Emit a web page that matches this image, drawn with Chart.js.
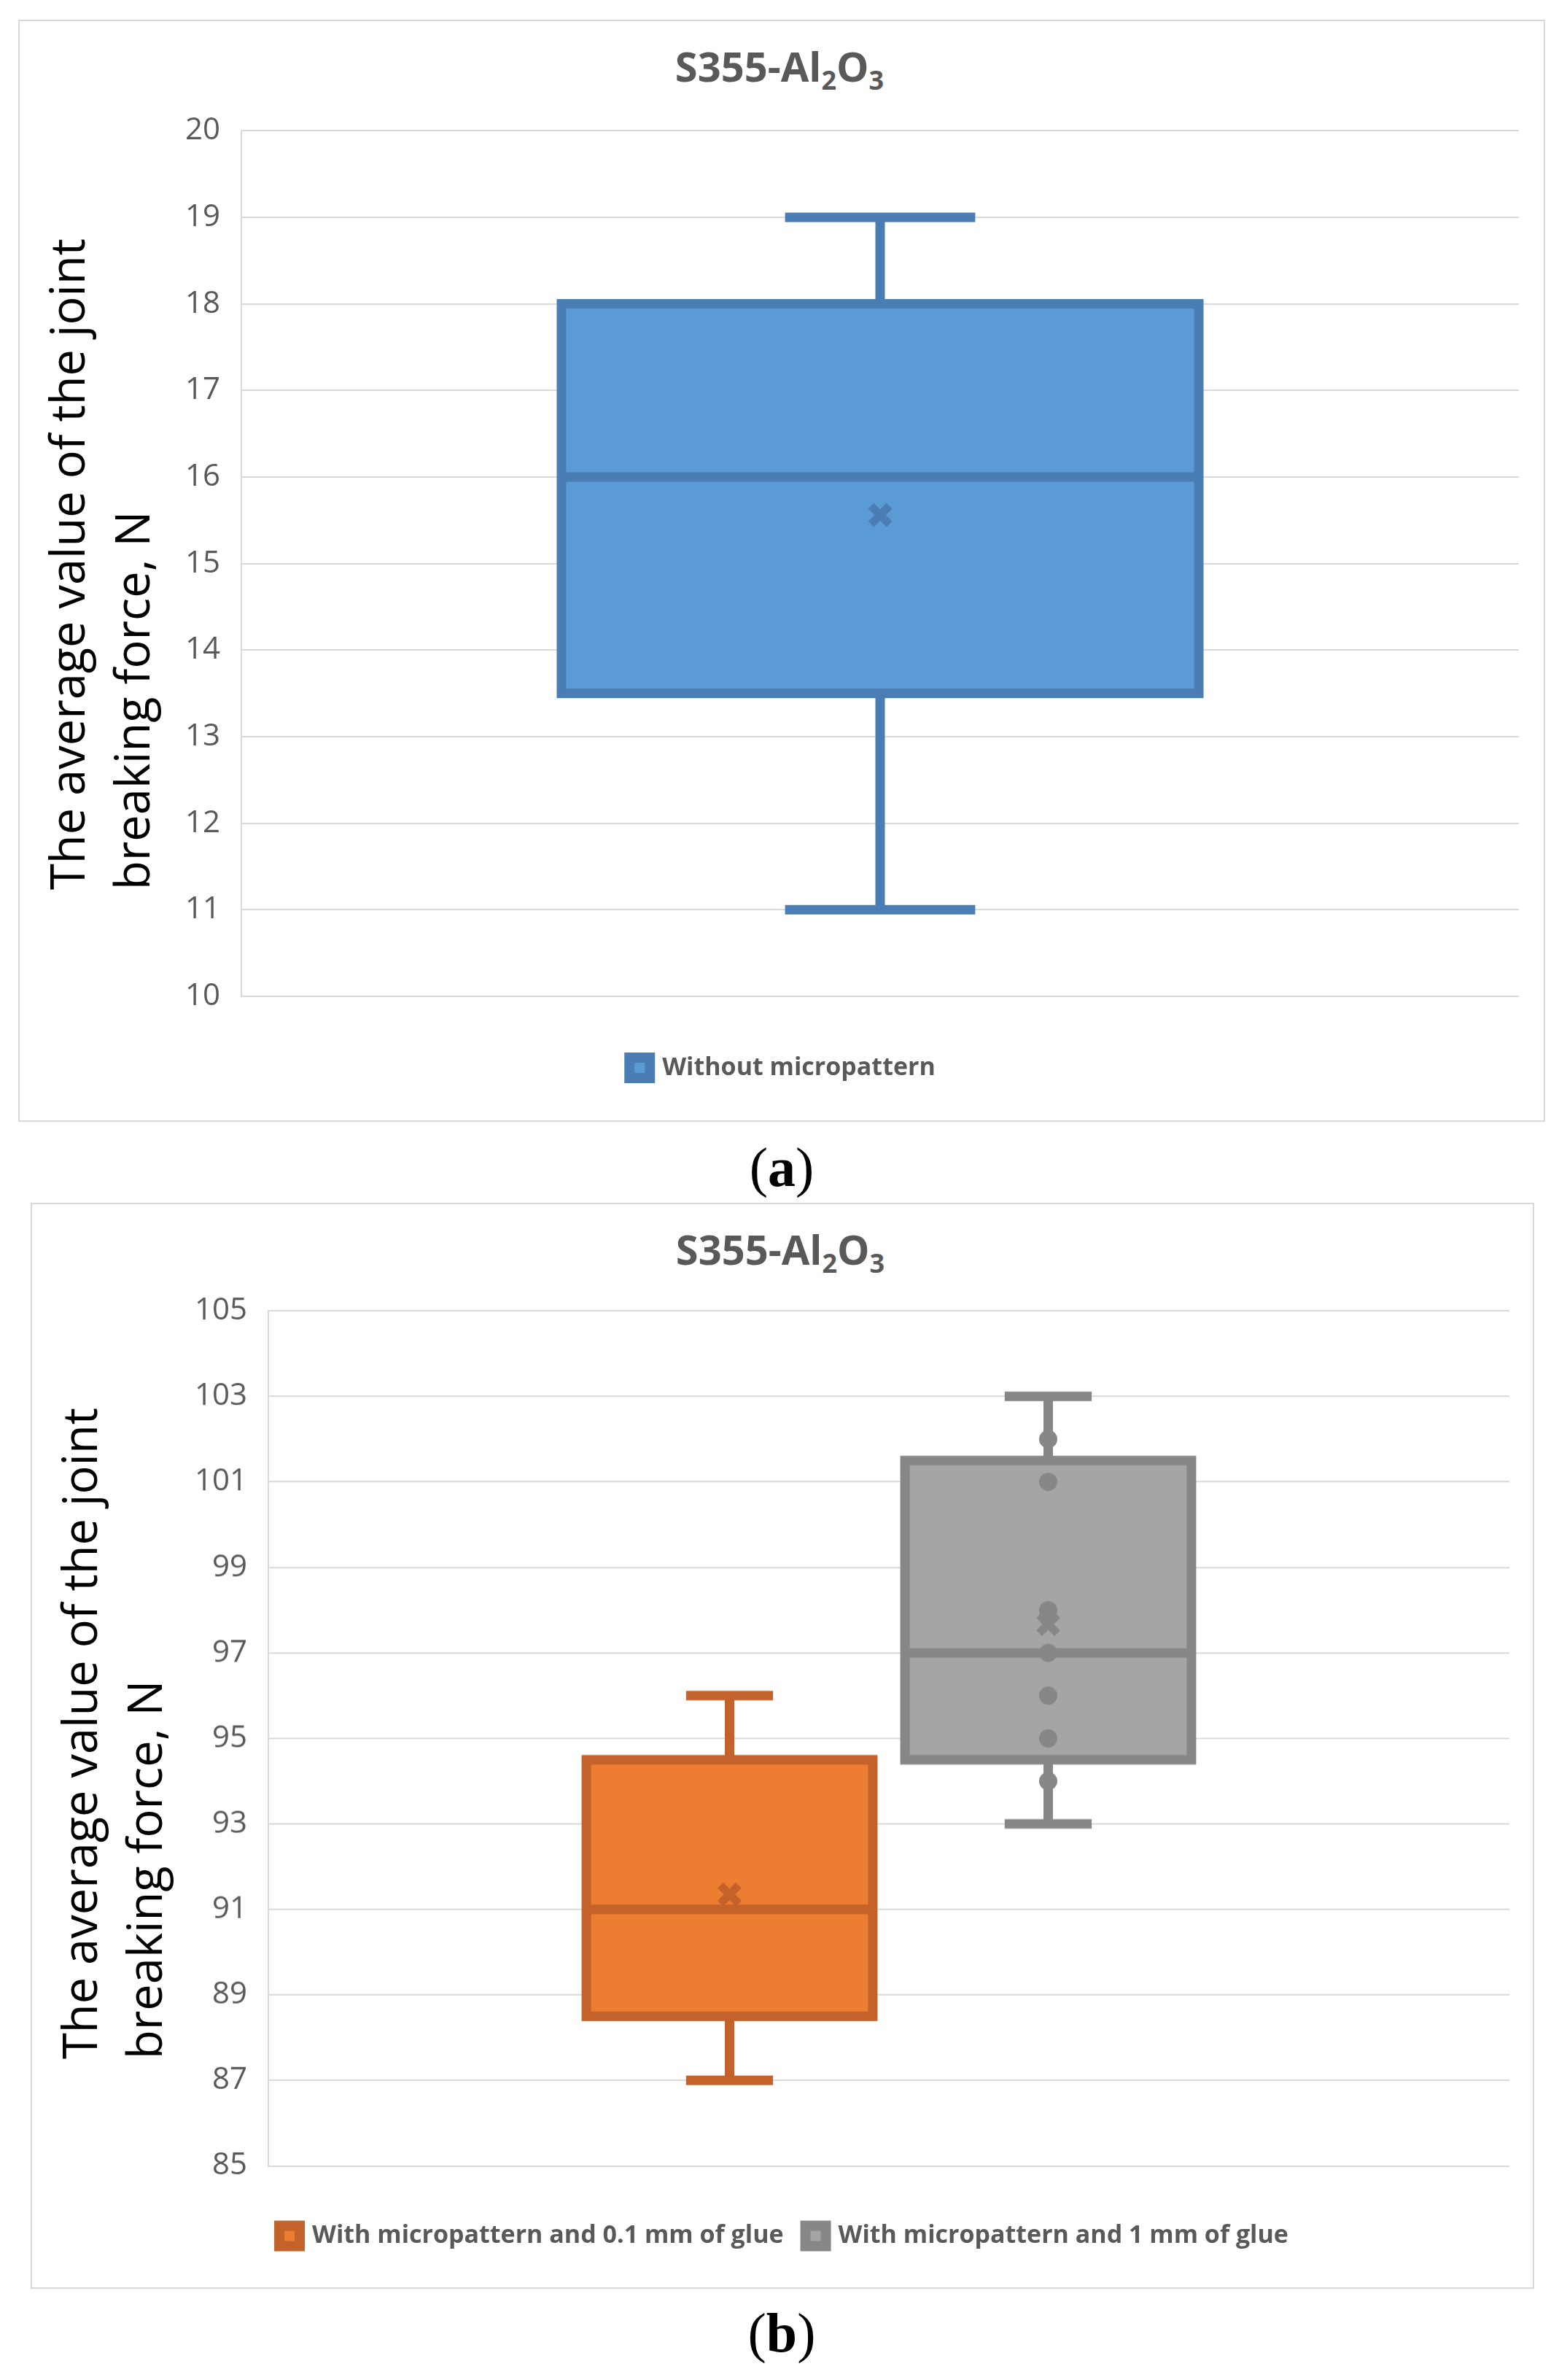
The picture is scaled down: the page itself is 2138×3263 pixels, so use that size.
<!DOCTYPE html>
<html>
<head>
<meta charset="utf-8">
<script src="https://cdn.jsdelivr.net/npm/chart.js@4.4.0/dist/chart.umd.min.js"></script>
<style>
html, body { margin: 0; padding: 0; background: #fff; }
body { width: 2138px; height: 3263px; position: relative; overflow: hidden; }
.panel { position: absolute; border: 2px solid #d9d9d9; box-sizing: border-box; }
.title { position: absolute; font-family: 'Open Sans'; font-weight: 700; font-size: 56px; line-height: 56px; color: #595959; white-space: nowrap; transform: translateX(-50%); }
.title sub { font-size: 36px; vertical-align: baseline; position: relative; top: 11px; }
.ytitle { position: absolute; transform-origin: 0 0; transform: rotate(-90deg); font-family: 'Open Sans'; font-size: 65px; line-height: 89px; color: #000; white-space: nowrap; }
.wrap { position: absolute; }
.caption { position: absolute; font-family: 'Liberation Serif', serif; font-size: 76px; line-height: 76px; color: #000; transform: translateX(-50%); }
</style>
</head>
<body>

<div class="panel" style="left:25px; top:27px; width:2094px; height:1511px;"></div>
<div class="title" style="left:1069px; top:62px;">S355-Al<sub>2</sub>O<sub>3</sub></div>
<div class="ytitle" style="left:47px; top:1220px;">The average value of the joint<br>breaking force, N</div>
<div class="wrap" style="left:63px; top:124.5px; width:2020px; height:1366px;"><canvas id="chartA"></canvas></div>
<div class="caption" style="left:1072px; top:1562px;">(<b>a</b>)</div>

<div class="panel" style="left:42px; top:1649px; width:2062px; height:1489px;"></div>
<div class="title" style="left:1070px; top:1684px;">S355-Al<sub>2</sub>O<sub>3</sub></div>
<div class="ytitle" style="left:64px; top:2823px;">The average value of the joint<br>breaking force, N</div>
<div class="wrap" style="left:80px; top:1743px; width:1990px; height:1348.5px;"><canvas id="chartB"></canvas></div>
<div class="caption" style="left:1072px; top:3160px;">(<b>b</b>)</div>

<script>
// (a) one series
const categoriesA = [''];
const seriesA = ['Without micropattern'];
const minA = [11];
const q1A = [13.5];
const medianA = [16];
const q3A = [18];
const maxA = [19];
const meanA = [15.56];
const pointsA = [[]];
const ticksA = [10, 11, 12, 13, 14, 15, 16, 17, 18, 19, 20];

// (b) two series side by side
const categoriesB = [''];
const seriesB = ['With micropattern and 0.1 mm of glue', 'With micropattern and 1 mm of glue'];
const minB = [87, 93];
const q1B = [88.5, 94.5];
const medianB = [91, 97];
const q3B = [94.5, 101.5];
const maxB = [96, 103];
const meanB = [91.35, 97.67];
const pointsB = [[], [94, 95, 96, 97, 98, 101, 102]];
const ticksB = [85, 87, 89, 91, 93, 95, 97, 99, 101, 103, 105];

const fillColors = { a: ['#5b9bd5'], b: ['#ed7d31', '#a5a5a5'] };
const edgeColors = { a: ['#4a7db3'], b: ['#c4622b', '#878787'] };

const LINE = 13;

function line(ctx, x1, y1, x2, y2) {
    ctx.beginPath();
    ctx.moveTo(x1, y1);
    ctx.lineTo(x2, y2);
    ctx.stroke();
}

// whiskers, caps, box outline, median, mean and inner points, placed on the bars
const boxWhiskerPlugin = {
    id: 'boxWhisker',
    afterDatasetsDraw(chart) {
        const ctx = chart.ctx;
        const yScale = chart.scales.y;
        const shift = chart.options.groupShift || 0;
        chart.data.datasets.forEach((ds, i) => {
            const meta = chart.getDatasetMeta(i);
            meta.data.forEach((bar, j) => {
                const { width } = bar.getProps(['width'], true);
                const x = bar.getProps(['x'], true).x;
                const half = width / 2;
                const capHalf = 0.147 * (width + LINE);
                const yMin = yScale.getPixelForValue(ds.stats.min[j]);
                const yQ1 = yScale.getPixelForValue(ds.data[j][0]);
                const yMed = yScale.getPixelForValue(ds.stats.median[j]);
                const yQ3 = yScale.getPixelForValue(ds.data[j][1]);
                const yMax = yScale.getPixelForValue(ds.stats.max[j]);
                const yMean = yScale.getPixelForValue(ds.stats.mean[j]);

                ctx.save();
                ctx.strokeStyle = ds.edgeColor;
                ctx.fillStyle = ds.edgeColor;
                ctx.lineWidth = LINE;
                ctx.lineCap = 'butt';

                line(ctx, x, yQ3, x, yMax);
                line(ctx, x, yQ1, x, yMin);
                line(ctx, x - capHalf, yMax, x + capHalf, yMax);
                line(ctx, x - capHalf, yMin, x + capHalf, yMin);
                ctx.strokeRect(x - half, yQ3, width, yQ1 - yQ3);
                line(ctx, x - half, yMed, x + half, yMed);

                ds.stats.points[j].forEach(v => {
                    ctx.beginPath();
                    ctx.arc(x, yScale.getPixelForValue(v), 12.5, 0, Math.PI * 2);
                    ctx.fill();
                });

                const r = 12.5;
                ctx.lineWidth = 11;
                line(ctx, x - r, yMean - r, x + r, yMean + r);
                line(ctx, x - r, yMean + r, x + r, yMean - r);
                ctx.restore();
            });
        });
    }
};

function buildDatasets(labels, q1, q3, mins, medians, maxs, means, points, fills, edges) {
    return labels.map((label, i) => ({
        label: label,
        data: [[q1[i], q3[i]]],
        backgroundColor: fills[i],
        borderWidth: 0,
        edgeColor: edges[i],
        stats: {
            min: [mins[i]],
            median: [medians[i]],
            max: [maxs[i]],
            mean: [means[i]],
            points: [points[i]]
        }
    }));
}

function createBoxChart(canvasId, categories, datasets, tickValues, yWidth, xGap, catPct, barPct) {
    const ctx = document.getElementById(canvasId).getContext('2d');
    return new Chart(ctx, {
        type: 'bar',
        data: { labels: categories, datasets: datasets },
        options: {
            responsive: true,
            maintainAspectRatio: false,
            devicePixelRatio: 1,
            animation: false,
            events: [],
            categoryPercentage: catPct,
            barPercentage: barPct,
            layout: { padding: { top: 50, left: 0, right: 0, bottom: 0 } },
            scales: {
                x: {
                    grid: { display: false },
                    border: { display: false },
                    ticks: { display: false },
                    afterFit: scale => { scale.height = xGap; }
                },
                y: {
                    min: tickValues[0],
                    max: tickValues[tickValues.length - 1],
                    afterBuildTicks: scale => { scale.ticks = tickValues.map(v => ({ value: v })); },
                    afterFit: scale => { scale.width = yWidth; },
                    grid: { color: '#d9d9d9', lineWidth: 2, drawTicks: false },
                    border: { display: true, color: '#d9d9d9', width: 2 },
                    ticks: {
                        padding: 29,
                        color: '#595959',
                        font: { family: 'Open Sans', size: 42 }
                    }
                }
            },
            plugins: {
                tooltip: { enabled: false },
                legend: {
                    position: 'bottom',
                    align: 'center',
                    labels: {
                        boxWidth: 28,
                        boxHeight: 28,
                        padding: 30,
                        color: '#595959',
                        font: { family: 'Open Sans', size: 34, weight: '700' },
                        generateLabels: chart => chart.data.datasets.map((ds, i) => ({
                            text: ds.label,
                            fillStyle: ds.backgroundColor,
                            strokeStyle: ds.edgeColor,
                            lineWidth: 14,
                            fontColor: '#595959',
                            hidden: false,
                            datasetIndex: i
                        }))
                    }
                }
            }
        },
        plugins: [boxWhiskerPlugin]
    });
}

const datasetsA = buildDatasets(seriesA, q1A, q3A, minA, medianA, maxA, meanA, pointsA, fillColors.a, edgeColors.a);
const datasetsB = buildDatasets(seriesB, q1B, q3B, minB, medianB, maxB, meanB, pointsB, fillColors.b, edgeColors.b);

createBoxChart('chartA', categoriesA, datasetsA, ticksA, 268, 51, 0.4989, 1);
createBoxChart('chartB', categoriesB, datasetsB, ticksB, 288, 49, 0.5135, 0.899);
</script>
</body>
</html>
